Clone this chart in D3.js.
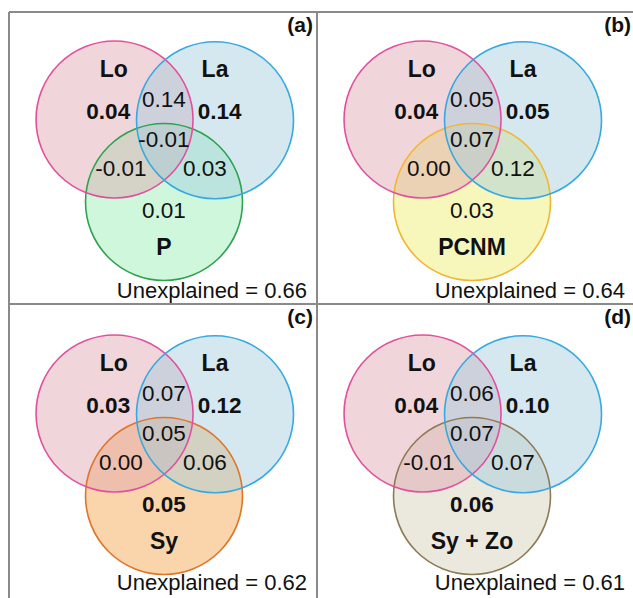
<!DOCTYPE html>
<html>
<head>
<meta charset="utf-8">
<script src="https://cdn.jsdelivr.net/npm/d3@7"></script>
<style>
  html, body { margin: 0; padding: 0; background: #fff; }
  svg { display: block; font-family: Arial, "Liberation Sans", sans-serif; }
</style>
</head>
<body>
<div id="chart"></div>
<script>
// data
const panelIds = ['(a)', '(b)', '(c)', '(d)'];
const thirdNames = ['P', 'PCNM', 'Sy', 'Sy + Zo'];
const unexplained = [0.66, 0.64, 0.62, 0.61];
// region values: Lo only, La only, Lo∩La, all three, Lo∩third, La∩third, third only
const loOnly = [0.04, 0.04, 0.03, 0.04];
const laOnly = [0.14, 0.05, 0.12, 0.10];
const loLa = [0.14, 0.05, 0.07, 0.06];
const allThree = [-0.01, 0.07, 0.05, 0.07];
const loThird = [-0.01, 0.00, 0.00, -0.01];
const laThird = [0.03, 0.12, 0.06, 0.07];
const thirdOnly = [0.01, 0.03, 0.05, 0.06];

// styles
const LO_COLOR = { stroke: '#e2509d', fill: '#dea4ad' };
const LA_COLOR = { stroke: '#36a9e1', fill: '#a2ccde' };
const THIRD_COLORS = [
  { stroke: '#2ea24e', fill: '#92eeb1' },
  { stroke: '#f2b630', fill: '#eeee6a' },
  { stroke: '#e07428', fill: '#f5a144' },
  { stroke: '#8c7b55', fill: '#d2cdb6' },
];
const THIRD_BOLD = [false, false, true, true];
const FILL_OPACITY = 0.45;

// dimensions
const WIDTH = 633;
const HEIGHT = 598;
const LEFT = 9;
const TOP = 12;
const COL_X = [LEFT, 317];
const ROW_Y = [TOP, 304];
const COL_W = [308, 318];
const R = 78.5;
const FONT_NORMAL = 22.5;
const FONT_BOLD = 22.5;
const FONT_NAME = 23;

// plain hyphen for negatives, as in the figure
const fmt = d3.formatLocale({ decimal: '.', thousands: ',', grouping: [3], currency: ['', ''], minus: '-' }).format('.2f');

const $svg = d3.select('#chart').append('svg')
  .attr('width', WIDTH)
  .attr('height', HEIGHT);

// grid lines
const $grid = $svg.append('g').attr('class', 'g-grid')
  .attr('stroke', '#8a8a8a')
  .attr('stroke-width', 1.2)
  .attr('shape-rendering', 'crispEdges');
$grid.append('line').attr('x1', LEFT).attr('x2', WIDTH).attr('y1', TOP).attr('y2', TOP);
$grid.append('line').attr('x1', LEFT).attr('x2', WIDTH).attr('y1', ROW_Y[1]).attr('y2', ROW_Y[1]);
$grid.append('line').attr('x1', LEFT).attr('x2', LEFT).attr('y1', TOP).attr('y2', HEIGHT);
$grid.append('line').attr('x1', COL_X[1]).attr('x2', COL_X[1]).attr('y1', TOP).attr('y2', HEIGHT);

panelIds.forEach((id, i) => {
  const col = i % 2;
  const row = Math.floor(i / 2);
  const w = COL_W[col];

  // unit venn coords -> panel pixels
  const scaleX = d3.scaleLinear().domain([-1, 1]).range([155 - R, 155 + R]);
  const scaleY = d3.scaleLinear().domain([-1, 1]).range([135 + row * 2 - R, 135 + row * 2 + R]);

  const $g = $svg.append('g')
    .attr('transform', `translate(${COL_X[col]}, ${ROW_Y[row]})`);

  const circles = [
    { x: 0, y: 0.70, c: THIRD_COLORS[i] },
    { x: -0.63, y: -0.35, c: LO_COLOR },
    { x: 0.65, y: -0.34, c: LA_COLOR },
  ];

  $g.selectAll('.fill')
    .data(circles)
    .join('circle')
    .attr('class', 'fill')
    .attr('cx', d => scaleX(d.x))
    .attr('cy', d => scaleY(d.y))
    .attr('r', R)
    .attr('fill', d => d.c.fill)
    .attr('fill-opacity', FILL_OPACITY)
    .attr('stroke', 'none');

  $g.selectAll('.ring')
    .data(circles)
    .join('circle')
    .attr('class', 'ring')
    .attr('cx', d => scaleX(d.x))
    .attr('cy', d => scaleY(d.y))
    .attr('r', R)
    .attr('fill', 'none')
    .attr('stroke', d => d.c.stroke)
    .attr('stroke-width', 1.6);

  const labels = [
    { x: -0.64, y: -1.0, t: 'Lo', bold: true, size: FONT_NAME },
    { x: 0.65, y: -1.0, t: 'La', bold: true, size: FONT_NAME },
    { x: -0.71, y: -0.45, t: fmt(loOnly[i]), bold: true, size: FONT_BOLD },
    { x: 0.71, y: -0.45, t: fmt(laOnly[i]), bold: true, size: FONT_BOLD },
    { x: 0.0, y: -0.60, t: fmt(loLa[i]), bold: false, size: FONT_NORMAL },
    { x: 0.0, y: -0.10, t: fmt(allThree[i]), bold: false, size: FONT_NORMAL },
    { x: -0.55, y: 0.27, t: fmt(loThird[i]), bold: false, size: FONT_NORMAL },
    { x: 0.52, y: 0.27, t: fmt(laThird[i]), bold: false, size: FONT_NORMAL },
    { x: 0.0, y: 0.81, t: fmt(thirdOnly[i]), bold: THIRD_BOLD[i], size: FONT_NORMAL },
    { x: 0.0, y: 1.28, t: thirdNames[i], bold: true, size: FONT_NAME },
  ];

  $g.selectAll('.lbl')
    .data(labels)
    .join('text')
    .attr('class', 'lbl')
    .attr('x', d => scaleX(d.x))
    .attr('y', d => scaleY(d.y))
    .attr('text-anchor', 'middle')
    .attr('dominant-baseline', 'central')
    .attr('font-size', d => d.size)
    .attr('font-weight', d => (d.bold ? 'bold' : 'normal'))
    .attr('fill', '#111')
    .text(d => d.t);

  // panel id
  $g.append('text')
    .attr('x', w - 4)
    .attr('y', 20)
    .attr('text-anchor', 'end')
    .attr('font-size', 21)
    .attr('font-weight', 'bold')
    .attr('fill', '#111')
    .text(id);

  // unexplained
  $g.append('text')
    .attr('x', w - 10)
    .attr('y', 286)
    .attr('text-anchor', 'end')
    .attr('font-size', 22)
    .attr('fill', '#111')
    .text(`Unexplained = ${fmt(unexplained[i])}`);
});
</script>
</body>
</html>
